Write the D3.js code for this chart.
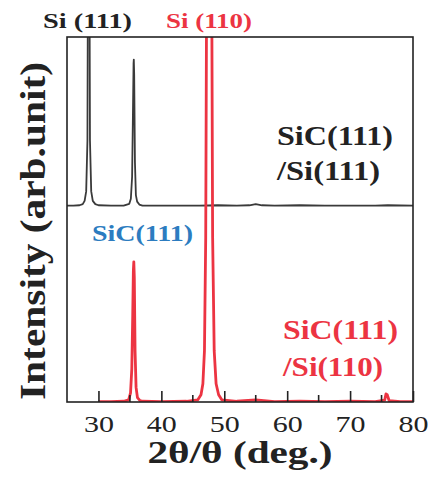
<!DOCTYPE html>
<html lang="en">
<head>
<meta charset="UTF-8">
<title>XRD 2θ/θ</title>
<script src="https://d3js.org/d3.v7.min.js"></script>
<style>
  body { margin: 0; background: #fff; }
  svg { display: block; }
  text { font-family: "Liberation Serif", "Times New Roman", serif; }
</style>
</head>
<body>
<svg width="431" height="477"></svg>
<script>
// black trace: SiC(111)/Si(111), intensity above its own baseline
const blackAngle = [25, 26, 27, 27.5, 27.8, 28.05, 28.25, 28.35, 28.45, 28.55, 28.65, 28.85, 29.1, 29.5, 30, 32, 34, 34.9, 35.15, 35.35, 35.48, 35.58, 35.62, 35.68, 35.8, 35.95, 36.15, 36.5, 37, 40, 44, 46, 49, 52, 54, 55, 56, 58, 62, 66, 70, 74, 76, 80];
const blackInt   = [0.1, 0.1, 0.2, 0.5, 1.4, 4, 18, 80, 320, 80, 18, 4, 1.4, 0.5, 0.2, 0.1, 0.1, 0.6, 2, 8, 25, 39, 40.1, 36, 12, 3, 1.2, 0.4, 0.1, 0.1, 0.1, 0.1, 0.2, 0.1, 0.2, 0.5, 0.2, 0.1, 0.2, 0.1, 0.1, 0.1, 0.2, 0.1];
const blackOffset = 53.7;

// red trace: SiC(111)/Si(110)
const redAngle = [30, 32, 34, 34.8, 35.1, 35.3, 35.45, 35.55, 35.62, 35.7, 35.82, 35.98, 36.2, 36.6, 37, 40, 44, 45.8, 46.3, 46.6, 46.85, 47.05, 47.25, 47.38, 47.82, 47.95, 48.15, 48.4, 48.7, 49.1, 49.6, 52, 55, 58, 62, 66, 70, 74, 75.5, 75.7, 75.9, 76.2, 78, 80];
const redInt   = [0.1, 0.1, 0.2, 0.6, 2.5, 9, 24, 36, 38.4, 34, 14, 4, 1.2, 0.4, 0.2, 0.1, 0.2, 0.6, 2, 5, 14, 45, 140, 400, 400, 140, 45, 14, 5, 2, 0.6, 0.2, 0.6, 0.1, 0.2, 0.1, 0.2, 0.1, 0.5, 2.2, 2.0, 0.4, 0.1, 0.1];

const majorTicks = [30, 40, 50, 60, 70, 80];
const minorTicks = [35, 45, 55, 65, 75];

const red = "#ec3442";
const blue = "#2c7cc0";

const svg = d3.select("svg");
const x = d3.scaleLinear().domain([25, 80]).range([67, 413]);
const y = d3.scaleLinear().domain([0, 100]).range([402, 37]);

svg.append("clipPath").attr("id", "plot")
  .append("rect")
  .attr("x", x(25)).attr("y", y(100))
  .attr("width", x(80) - x(25)).attr("height", y(0) - y(100));

const line = d3.line().x(d => x(d[0])).y(d => y(d[1]));

const blackData = blackAngle.map((a, i) => [a, blackInt[i] + blackOffset]);
const redData = redAngle.map((a, i) => [a, redInt[i]]);

const plot = svg.append("g").attr("clip-path", "url(#plot)");
plot.append("path").datum(blackData)
  .attr("d", line).attr("fill", "none")
  .attr("stroke", "#3a3a3a").attr("stroke-width", 1.8)
  .attr("stroke-linejoin", "round");
plot.append("path").datum(redData)
  .attr("d", line).attr("fill", "none")
  .attr("stroke", red).attr("stroke-width", 2.8)
  .attr("stroke-linejoin", "round");

// frame
svg.append("rect")
  .attr("x", x(25)).attr("y", y(100))
  .attr("width", x(80) - x(25)).attr("height", y(0) - y(100))
  .attr("fill", "none").attr("stroke", "#222").attr("stroke-width", 1.6);

// bottom axis, ticks pointing inward
const axis = svg.append("g").attr("transform", `translate(0,${y(0)})`)
  .call(d3.axisBottom(x).tickValues(majorTicks).tickSize(-11).tickPadding(8).tickFormat(d3.format("d")));
axis.select(".domain").remove();
axis.selectAll(".tick line").attr("stroke", "#222").attr("stroke-width", 1.6);
axis.selectAll(".tick text")
  .attr("font-size", 23).attr("fill", "#222")
  .attr("font-family", "Liberation Serif")
  .attr("dy", "0.95em")
  .attr("textLength", 30).attr("lengthAdjust", "spacingAndGlyphs");

svg.append("g").selectAll("line").data(minorTicks).join("line")
  .attr("x1", d => x(d)).attr("x2", d => x(d))
  .attr("y1", y(0)).attr("y2", y(0) - 7)
  .attr("stroke", "#222").attr("stroke-width", 1.6);

// axis titles
svg.append("text")
  .attr("x", 240).attr("y", 463)
  .attr("text-anchor", "middle")
  .attr("font-size", 31).attr("font-weight", "bold").attr("fill", "#222")
  .attr("textLength", 185).attr("lengthAdjust", "spacingAndGlyphs")
  .text("2θ/θ (deg.)");

svg.append("text")
  .attr("transform", "translate(45,231) rotate(-90)")
  .attr("text-anchor", "middle")
  .attr("font-size", 36).attr("font-weight", "bold").attr("fill", "#222")
  .attr("textLength", 338).attr("lengthAdjust", "spacingAndGlyphs")
  .text("Intensity (arb.unit)");

// annotations
const labels = [
  { t: "Si (111)", x: 43, y: 28, w: 89, s: 22, c: "#222" },
  { t: "Si (110)", x: 166, y: 28, w: 86, s: 22, c: red },
  { t: "SiC(111)", x: 92, y: 241, w: 101, s: 24, c: blue },
  { t: "SiC(111)", x: 277, y: 145, w: 116, s: 28, c: "#222" },
  { t: "/Si(111)", x: 277, y: 180, w: 103, s: 28, c: "#222" },
  { t: "SiC(111)", x: 283, y: 339, w: 115, s: 28, c: red },
  { t: "/Si(110)", x: 283, y: 376, w: 100, s: 28, c: red }
];
svg.append("g").selectAll("text").data(labels).join("text")
  .attr("x", d => d.x).attr("y", d => d.y)
  .attr("font-size", d => d.s).attr("font-weight", "bold")
  .attr("fill", d => d.c)
  .attr("textLength", d => d.w).attr("lengthAdjust", "spacingAndGlyphs")
  .text(d => d.t);
</script>
</body>
</html>
